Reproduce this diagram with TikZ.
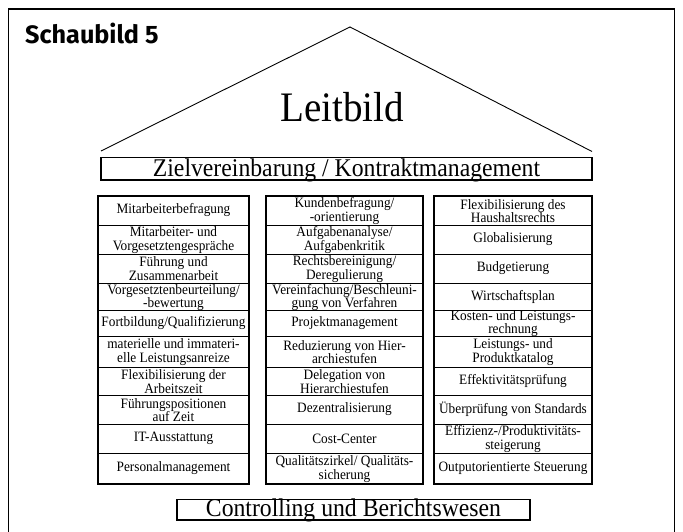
\documentclass[tikz,border=0pt]{standalone}
\usepackage{fontspec}
\setmainfont{Liberation Serif}
\newfontfamily\titlefont{Fira Sans}
\newfontfamily\narrowserif[FakeStretch=0.93]{Liberation Serif}
\newfontfamily\cellserif[FakeStretch=0.93]{Liberation Serif}
\begin{document}
\begin{tikzpicture}[x=1pt,y=-1pt,
  frame/.style={line width=1.1pt},
  roof/.style={line width=0.9pt, line join=miter},
  boxline/.style={line width=1.1pt},
  divline/.style={line width=0.9pt},
  cell/.style={font=\cellserif\fontsize{14.3}{13.3}\selectfont, align=center, inner sep=0pt},
  bigtext/.style={font=\narrowserif\fontsize{25.5}{27}\selectfont, inner sep=0pt, anchor=base}]
\useasboundingbox (0,0) rectangle (683,532);
% outer frame (open at bottom)
\draw[frame] (8.5,532) -- (8.5,9) -- (674.5,9) -- (674.5,532);
% title
\node[anchor=base west, inner sep=0pt, font=\titlefont\bfseries\fontsize{25.2}{27}\selectfont] (title) at (25,44) {Schaubild 5};
% roof
\coordinate (roofL) at (101,151);
\coordinate (roofT) at (350,27);
\coordinate (roofR) at (592,151.5);
\draw[roof] (roofL) -- (roofT) -- (roofR);
\node[anchor=base, inner sep=0pt, font=\narrowserif\fontsize{42}{44}\selectfont] (leit) at (342,122) {Leitbild};
% Zielvereinbarung
\draw[boxline] (101,157.5) rectangle (592,180);
\node[bigtext] (ziel) at (346.5,176.5) {Zielvereinbarung / Kontraktmanagement};
% columns
\draw[boxline] (98,196) rectangle (249,484);
\draw[boxline] (266,196) rectangle (423,484);
\draw[boxline] (434,196) rectangle (592,484);
\foreach \y in {225,254,283,310,336,367,395,424,453} {
  \draw[divline] (98,\y) -- (249,\y);
  \draw[divline] (266,\y) -- (423,\y);
  \draw[divline] (434,\y) -- (592,\y);
}
% left column
\node[cell] (L1) at (173.5,210.5) {Mitarbeiterbefragung};
\node[cell] (L2) at (173.5,240) {Mitarbeiter- und\\Vorgesetztengespräche};
\node[cell] (L3) at (173.5,268.5) {Führung und\\Zusammenarbeit};
\node[cell] (L4) at (173.5,297.5) {Vorgesetztenbeurteilung/\\-bewertung};
\node[cell] (L5) at (173.5,323) {Fortbildung/Qualifizierung};
\node[cell] (L6) at (173.5,352) {materielle und immateri-\\elle Leistungsanreize};
\node[cell] (L7) at (173.5,381.5) {Flexibilisierung der\\Arbeitszeit};
\node[cell] (L8) at (173.5,410) {Führungspositionen\\auf Zeit};
\node[cell] (L9) at (173.5,438.5) {IT-Ausstattung};
\node[cell] (L10) at (173.5,468.5) {Personalmanagement};
% middle column
\node[cell] (M1) at (344.5,211) {Kundenbefragung/\\-orientierung};
\node[cell] (M2) at (344.5,240) {Aufgabenanalyse/\\Aufgabenkritik};
\node[cell] (M3) at (344.5,269) {Rechtsbereinigung/\\Deregulierung};
\node[cell] (M4) at (344.5,297.5) {Vereinfachung/Beschleuni-\\gung von Verfahren};
\node[cell] (M5) at (344.5,323) {Projektmanagement};
\node[cell] (M6) at (344.5,352) {Reduzierung von Hier-\\archiestufen};
\node[cell] (M7) at (344.5,381.5) {Delegation von\\Hierarchiestufen};
\node[cell] (M8) at (344.5,409.5) {Dezentralisierung};
\node[cell] (M9) at (344.5,438.5) {Cost-Center};
\node[cell] (M10) at (344.5,469) {Qualitätszirkel/ Qualitäts-\\sicherung};
% right column
\node[cell] (R1) at (513,211) {Flexibilisierung des\\Haushaltsrechts};
\node[cell] (R2) at (513,239.5) {Globalisierung};
\node[cell] (R3) at (513,268.5) {Budgetierung};
\node[cell] (R4) at (513,296.5) {Wirtschaftsplan};
\node[cell] (R5) at (513,323.5) {Kosten- und Leistungs-\\rechnung};
\node[cell] (R6) at (513,352) {Leistungs- und\\Produktkatalog};
\node[cell] (R7) at (513,381) {Effektivitätsprüfung};
\node[cell] (R8) at (513,409.5) {Überprüfung von Standards};
\node[cell] (R9) at (513,439) {Effizienz-/Produktivitäts-\\steigerung};
\node[cell] (R10) at (513,468.5) {Outputorientierte Steuerung};
% Controlling
\draw[boxline] (177,499.5) rectangle (530,520);
\node[bigtext] (contr) at (353.5,516.5) {Controlling und Berichtswesen};
\end{tikzpicture}
\end{document}
